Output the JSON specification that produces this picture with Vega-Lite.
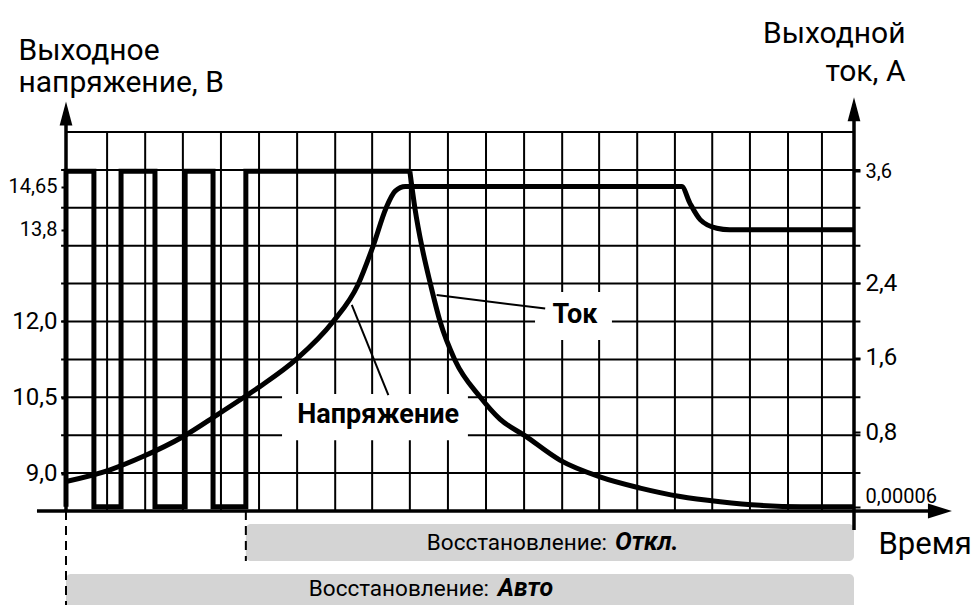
{
  "$schema": "https://vega.github.io/schema/vega-lite/v6.json",
  "width": 788,
  "height": 379,
  "autosize": {"type": "none"},
  "padding": {"left": 66, "top": 132, "right": 117, "bottom": 94},
  "background": "white",
  "config": {"view": {"stroke": null}, "font": "Roboto"},
  "datasets": {
    "hgrid": [
      {"t": -0.13, "t2": 21.07, "r": 1}, {"t": -0.13, "t2": 21.07, "r": 2}, {"t": -0.13, "t2": 21.07, "r": 3},
      {"t": -0.13, "t2": 21.07, "r": 4}, {"t": -0.13, "t2": 21.07, "r": 5}, {"t": -0.13, "t2": 21.07, "r": 6},
      {"t": -0.13, "t2": 21.07, "r": 7}, {"t": -0.13, "t2": 21.07, "r": 8}, {"t": -0.13, "t2": 21.07, "r": 9},
      {"t": 0, "t2": 20.9, "r": 10}
    ],
    "vgrid": [
      {"t": 1.09, "r": 0, "r2": 10}, {"t": 2.1, "r": 0, "r2": 10}, {"t": 3.1, "r": 0, "r2": 10},
      {"t": 4.11, "r": 0, "r2": 10}, {"t": 5.12, "r": 0, "r2": 10}, {"t": 6.13, "r": 0, "r2": 10},
      {"t": 7.14, "r": 0, "r2": 10}, {"t": 8.12, "r": 0, "r2": 10}, {"t": 9.12, "r": 0, "r2": 10},
      {"t": 10.13, "r": 0, "r2": 10}, {"t": 11.14, "r": 0, "r2": 10}, {"t": 12.15, "r": 0, "r2": 10},
      {"t": 13.16, "r": 0, "r2": 10}, {"t": 14.14, "r": 0, "r2": 10}, {"t": 15.15, "r": 0, "r2": 10},
      {"t": 16.15, "r": 0, "r2": 10}, {"t": 17.14, "r": 0, "r2": 10}, {"t": 18.14, "r": 0, "r2": 10},
      {"t": 19.15, "r": 0, "r2": 10}, {"t": 20.05, "r": 0, "r2": 10}
    ],
    "boxes": [
      {"t": 5.73, "t2": 10.66, "r": 1.87, "r2": 3.09},
      {"t": 12.44, "t2": 14.48, "r": 4.51, "r2": 5.78}
    ],
    "voltage": [
      {"t": 0, "v": 8.85}, {"t": 1.17, "v": 9.08}, {"t": 2.04, "v": 9.34}, {"t": 3.1, "v": 9.73},
      {"t": 4.01, "v": 10.16}, {"t": 4.77, "v": 10.53}, {"t": 5.15, "v": 10.72}, {"t": 6.12, "v": 11.26},
      {"t": 7.08, "v": 11.99}, {"t": 7.75, "v": 12.73}, {"t": 8.14, "v": 13.47}, {"t": 8.49, "v": 14.23},
      {"t": 8.73, "v": 14.56}, {"t": 9.0, "v": 14.65}, {"t": 16.33, "v": 14.65}, {"t": 16.55, "v": 14.32},
      {"t": 16.82, "v": 14.0}, {"t": 17.26, "v": 13.83}, {"t": 17.6, "v": 13.8}, {"t": 20.9, "v": 13.8}
    ],
    "pulses": [
      {"i": 0, "t": 0, "a": 0.00006}, {"i": 1, "t": 0, "a": 3.6}, {"i": 2, "t": 0.74, "a": 3.6},
      {"i": 3, "t": 0.74, "a": 0.00006}, {"i": 4, "t": 1.46, "a": 0.00006}, {"i": 5, "t": 1.46, "a": 3.6},
      {"i": 6, "t": 2.36, "a": 3.6}, {"i": 7, "t": 2.36, "a": 0.00006}, {"i": 8, "t": 3.16, "a": 0.00006},
      {"i": 9, "t": 3.16, "a": 3.6}, {"i": 10, "t": 3.9, "a": 3.6}, {"i": 11, "t": 3.9, "a": 0.00006},
      {"i": 12, "t": 4.77, "a": 0.00006}, {"i": 13, "t": 4.77, "a": 3.6}, {"i": 14, "t": 9.12, "a": 3.6}
    ],
    "decay": [
      {"t": 9.12, "a": 3.6}, {"t": 9.26, "a": 3.19}, {"t": 9.44, "a": 2.79}, {"t": 9.66, "a": 2.4},
      {"t": 9.92, "a": 1.99}, {"t": 10.32, "a": 1.57}, {"t": 10.98, "a": 1.18}, {"t": 11.51, "a": 0.94},
      {"t": 12.18, "a": 0.76}, {"t": 13.1, "a": 0.5}, {"t": 14.16, "a": 0.32}, {"t": 15.23, "a": 0.2},
      {"t": 16.29, "a": 0.11}, {"t": 17.35, "a": 0.054}, {"t": 18.41, "a": 0.015}, {"t": 19.5, "a": 0.00006},
      {"t": 20.9, "a": 0.00006}
    ],
    "leaders": [
      {"t": 8.55, "t2": 7.58, "r": 3.06, "r2": 5.44},
      {"t": 12.71, "t2": 9.83, "r": 5.34, "r2": 5.7}
    ],
    "axislines": [
      {"t": 0, "t2": 0, "r": 0, "r2": 10.3},
      {"t": 20.9, "t2": 20.9, "r": -0.5, "r2": 10.3},
      {"t": -0.77, "t2": 22.92, "r": 0, "r2": 0}
    ],
    "dashes": [
      {"t": 0, "t2": 0, "r": 0, "r2": -2.6},
      {"t": 4.77, "t2": 4.77, "r": 0, "r2": -1.32}
    ],
    "uparrows": [{"t": 0, "r": 10.49}, {"t": 20.9, "r": 10.6}],
    "rightarrow": [{"t": 23.18, "r": 0}],
    "bars": [
      {"t": 4.77, "t2": 20.9, "r": -0.34, "r2": -1.32},
      {"t": 0, "t2": 20.9, "r": -1.66, "r2": -2.7}
    ],
    "barlabels": [
      {"t": 14.35, "r": -1.016, "txt": "Восстановление:"},
      {"t": 11.22, "r": -2.24, "txt": "Восстановление:"}
    ],
    "barmodes": [
      {"t": 14.56, "r": -1.016, "txt": "Откл."},
      {"t": 11.45, "r": -2.24, "txt": "Авто"}
    ],
    "notes": [
      {"t": 8.28, "r": 2.32, "txt": "Напряжение"},
      {"t": 13.5, "r": 4.96, "txt": "Ток"}
    ]
  },
  "encoding": {
    "x": {
      "field": "t", "type": "quantitative",
      "scale": {"domain": [0, 20.9], "nice": false, "zero": false},
      "axis": {
        "title": "Время", "domain": false, "ticks": false, "labels": false, "grid": false,
        "titleX": 812, "titleY": 42, "titleAlign": "left", "titleBaseline": "alphabetic",
        "titleFontSize": 31, "titleFontWeight": "normal", "titleColor": "#000", "titleFont": "Roboto"
      }
    }
  },
  "layer": [
    {
      "data": {"name": "hgrid"},
      "mark": {"type": "rule", "color": "#000", "strokeWidth": 2},
      "encoding": {
        "x2": {"field": "t2"},
        "y": {"field": "r", "type": "quantitative", "scale": {"domain": [0, 10], "nice": false, "zero": false}, "axis": null}
      }
    },
    {
      "data": {"name": "vgrid"},
      "mark": {"type": "rule", "color": "#000", "strokeWidth": 2},
      "encoding": {
        "y": {"field": "r", "type": "quantitative", "scale": {"domain": [0, 10], "nice": false, "zero": false}, "axis": null},
        "y2": {"field": "r2"}
      }
    },
    {
      "data": {"name": "boxes"},
      "mark": {"type": "rect", "color": "#fff"},
      "encoding": {
        "x2": {"field": "t2"},
        "y": {"field": "r", "type": "quantitative", "scale": {"domain": [0, 10], "nice": false, "zero": false}, "axis": null},
        "y2": {"field": "r2"}
      }
    },
    {
      "data": {"name": "voltage"},
      "mark": {"type": "line", "color": "#000", "strokeWidth": 5, "interpolate": "monotone"},
      "encoding": {
        "y": {
          "field": "v", "type": "quantitative",
          "scale": {"domain": [8.269, 15.723], "nice": false, "zero": false},
          "axis": {
            "orient": "left", "values": [9, 10.5, 12, 13.8, 14.65], "domain": false, "grid": false,
            "tickSize": 5, "tickWidth": 2, "tickColor": "#000",
            "labelExpr": "datum.value == 14.65 ? '14,65' : replace(format(datum.value, '.1f'), '.', ',')",
            "labelFontSize": {"condition": {"test": "datum.value > 13", "value": 20}, "value": 24},
            "labelPadding": 4, "labelColor": "#000", "labelFont": "Roboto",
            "title": ["Выходное", "напряжение, В"],
            "titleX": -48, "titleY": -73, "titleAngle": 0, "titleAlign": "left", "titleBaseline": "alphabetic",
            "titleFontSize": 30, "titleFontWeight": "normal", "titleLineHeight": 32, "titleColor": "#000", "titleFont": "Roboto"
          }
        }
      }
    },
    {
      "data": {"name": "pulses"},
      "mark": {"type": "line", "color": "#000", "strokeWidth": 5, "strokeJoin": "miter"},
      "encoding": {
        "order": {"field": "i", "type": "quantitative"},
        "y": {
          "field": "a", "type": "quantitative",
          "scale": {"domain": [-0.046, 4.022], "nice": false, "zero": false},
          "axis": {
            "orient": "right", "values": [0.00006, 0.8, 1.6, 2.4, 3.6], "domain": false, "grid": false,
            "tickSize": 6, "tickWidth": 2, "tickColor": "#000",
            "labelExpr": "datum.value < 0.1 ? '0,00006' : replace(format(datum.value, '.1f'), '.', ',')",
            "labelFontSize": {"condition": {"test": "datum.value < 0.1 || datum.value > 3", "value": 20}, "value": 24},
            "labelBaseline": {"condition": {"test": "datum.value < 0.1", "value": "bottom"}, "value": "middle"},
            "labelPadding": 5, "labelColor": "#000", "labelFont": "Roboto",
            "title": ["Выходной", "ток, А"],
            "titleX": 51, "titleY": -90, "titleAngle": 0, "titleAlign": "right", "titleBaseline": "alphabetic",
            "titleFontSize": 30, "titleFontWeight": "normal", "titleLineHeight": 38, "titleColor": "#000", "titleFont": "Roboto"
          }
        }
      }
    },
    {
      "data": {"name": "decay"},
      "mark": {"type": "line", "color": "#000", "strokeWidth": 5, "interpolate": "monotone"},
      "encoding": {
        "y": {"field": "a", "type": "quantitative", "scale": {"domain": [-0.046, 4.022], "nice": false, "zero": false}, "axis": null}
      }
    },
    {
      "data": {"name": "leaders"},
      "mark": {"type": "rule", "color": "#000", "strokeWidth": 2},
      "encoding": {
        "x2": {"field": "t2"},
        "y": {"field": "r", "type": "quantitative", "scale": {"domain": [0, 10], "nice": false, "zero": false}, "axis": null},
        "y2": {"field": "r2"}
      }
    },
    {
      "data": {"name": "bars"},
      "mark": {"type": "rect", "color": "#d4d4d4", "cornerRadius": 5},
      "encoding": {
        "x2": {"field": "t2"},
        "y": {"field": "r", "type": "quantitative", "scale": {"domain": [0, 10], "nice": false, "zero": false}, "axis": null},
        "y2": {"field": "r2"}
      }
    },
    {
      "data": {"name": "axislines"},
      "mark": {"type": "rule", "color": "#000", "strokeWidth": 3.5},
      "encoding": {
        "x2": {"field": "t2"},
        "y": {"field": "r", "type": "quantitative", "scale": {"domain": [0, 10], "nice": false, "zero": false}, "axis": null},
        "y2": {"field": "r2"}
      }
    },
    {
      "data": {"name": "dashes"},
      "mark": {"type": "rule", "color": "#000", "strokeWidth": 2, "strokeDash": [9, 6]},
      "encoding": {
        "x2": {"field": "t2"},
        "y": {"field": "r", "type": "quantitative", "scale": {"domain": [0, 10], "nice": false, "zero": false}, "axis": null},
        "y2": {"field": "r2"}
      }
    },
    {
      "data": {"name": "uparrows"},
      "mark": {"type": "point", "shape": "M0,-1L0.53,1L-0.53,1Z", "size": 576, "filled": true, "color": "#000", "opacity": 1},
      "encoding": {
        "y": {"field": "r", "type": "quantitative", "scale": {"domain": [0, 10], "nice": false, "zero": false}, "axis": null}
      }
    },
    {
      "data": {"name": "rightarrow"},
      "mark": {"type": "point", "shape": "M1,0L-1,-0.62L-1,0.62Z", "size": 576, "filled": true, "color": "#000", "opacity": 1},
      "encoding": {
        "y": {"field": "r", "type": "quantitative", "scale": {"domain": [0, 10], "nice": false, "zero": false}, "axis": null}
      }
    },
    {
      "data": {"name": "barlabels"},
      "mark": {"type": "text", "align": "right", "baseline": "alphabetic", "fontSize": 22.5, "color": "#000", "font": "Roboto"},
      "encoding": {
        "y": {"field": "r", "type": "quantitative", "scale": {"domain": [0, 10], "nice": false, "zero": false}, "axis": null},
        "text": {"field": "txt"}
      }
    },
    {
      "data": {"name": "barmodes"},
      "mark": {"type": "text", "align": "left", "baseline": "alphabetic", "fontSize": 25, "fontWeight": "bold", "fontStyle": "italic", "color": "#000", "font": "Roboto"},
      "encoding": {
        "y": {"field": "r", "type": "quantitative", "scale": {"domain": [0, 10], "nice": false, "zero": false}, "axis": null},
        "text": {"field": "txt"}
      }
    },
    {
      "data": {"name": "notes"},
      "mark": {"type": "text", "align": "center", "baseline": "alphabetic", "fontSize": 27, "fontWeight": "bold", "color": "#000", "font": "Roboto"},
      "encoding": {
        "y": {"field": "r", "type": "quantitative", "scale": {"domain": [0, 10], "nice": false, "zero": false}, "axis": null},
        "text": {"field": "txt"}
      }
    }
  ],
  "resolve": {"scale": {"y": "independent"}}
}
